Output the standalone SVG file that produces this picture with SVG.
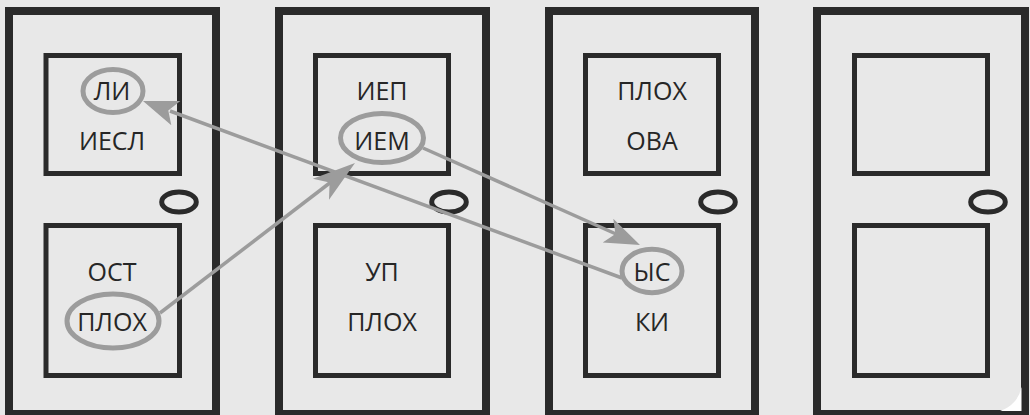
<svg xmlns="http://www.w3.org/2000/svg" width="1030" height="415" viewBox="0 0 1030 415">
  <style>
    .frame { fill: #e8e8e8; stroke: #2a2a2a; stroke-width: 8; }
    .panel { fill: none; stroke: #2a2a2a; stroke-width: 5; }
    .knob { fill: none; stroke: #2a2a2a; stroke-width: 5; }
    .lbl { font-family: "Open Sans", "Noto Sans", "DejaVu Sans", sans-serif; font-size: 25px; fill: #262626; text-anchor: middle; }
    .ring { fill: none; stroke: #9c9c9c; stroke-width: 5; }
    .conn { stroke: #9c9c9c; stroke-width: 3.5; fill: none; }
    .head { fill: #9c9c9c; }
  </style>
  <rect x="0" y="0" width="1030" height="415" fill="#e8e8e8"/>

  <g id="door1">
    <rect class="frame" x="9" y="11" width="207" height="403"/>
    <rect class="panel" x="46" y="55.5" width="133.5" height="118"/>
    <rect class="panel" x="46" y="225.5" width="133.5" height="150"/>
    <ellipse class="knob" cx="179" cy="202" rx="17.3" ry="10"/>
    <text class="lbl" x="112" y="100">ЛИ</text>
    <text class="lbl" x="112" y="150">ИЕСЛ</text>
    <text class="lbl" x="112" y="281">ОСТ</text>
    <text class="lbl" x="112" y="331">ПЛОХ</text>
    <ellipse class="ring" cx="113" cy="91" rx="30" ry="21.5"/>
    <ellipse class="ring" cx="113" cy="321" rx="46" ry="27"/>
  </g>

  <g id="door2">
    <rect class="frame" x="279" y="11" width="207" height="403"/>
    <rect class="panel" x="315.5" y="55.5" width="133" height="118"/>
    <rect class="panel" x="315.5" y="225.5" width="133" height="150"/>
    <ellipse class="knob" cx="449" cy="202" rx="17.3" ry="10"/>
    <text class="lbl" x="382" y="100">ИЕП</text>
    <text class="lbl" x="382" y="150">ИЕМ</text>
    <text class="lbl" x="382" y="281">УП</text>
    <text class="lbl" x="382" y="331">ПЛОХ</text>
    <ellipse class="ring" cx="382" cy="138" rx="41.5" ry="24.5"/>
  </g>

  <g id="door3">
    <rect class="frame" x="549" y="11" width="206" height="403"/>
    <rect class="panel" x="585.5" y="55.5" width="133" height="118"/>
    <rect class="panel" x="585.5" y="225.5" width="133" height="150"/>
    <ellipse class="knob" cx="718" cy="202" rx="17.3" ry="10"/>
    <text class="lbl" x="652" y="100">ПЛОХ</text>
    <text class="lbl" x="652" y="150">ОВА</text>
    <text class="lbl" x="652" y="281">ЫС</text>
    <text class="lbl" x="652" y="331">КИ</text>
    <ellipse class="ring" cx="652" cy="271" rx="30" ry="21.7"/>
  </g>

  <g id="door4">
    <rect class="frame" x="817" y="11" width="208" height="403"/>
    <path d="M 1000 411 A 31 31 0 0 0 1021.5 387 L 1021.5 411 Z" fill="#ffffff"/>
    <rect class="panel" x="854.5" y="55.5" width="133" height="118"/>
    <rect class="panel" x="854.5" y="225.5" width="133" height="150"/>
    <ellipse class="knob" cx="988" cy="202" rx="17.3" ry="10"/>
  </g>

  <g id="connectors">
    <line class="conn" x1="622" y1="278" x2="170" y2="111"/>
    <polygon class="head" points="143,101 180.3,101 168.3,110.4 171.3,125.3"/>
    <line class="conn" x1="160" y1="313" x2="331" y2="182"/>
    <polygon class="head" points="355,163 312.8,178.7 329.6,182.5 329,199.8"/>
    <line class="conn" x1="423" y1="148" x2="616" y2="234"/>
    <polygon class="head" points="640,245 613.3,218.8 615.4,234 602.7,242.6"/>
  </g>
</svg>
